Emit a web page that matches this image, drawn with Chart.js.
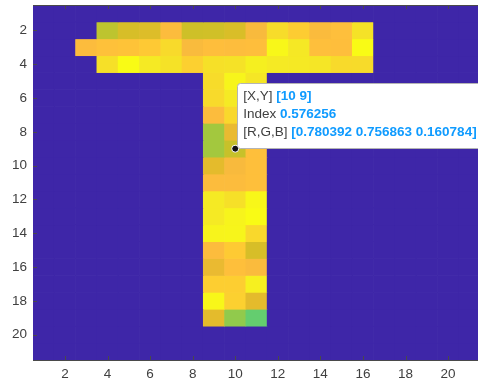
<!DOCTYPE html>
<html>
<head>
<meta charset="utf-8">
<script src="https://cdn.jsdelivr.net/npm/chart.js@4"></script>
<style>
  html, body { margin: 0; padding: 0; background: #fff; overflow: hidden; }
  #wrap { width: 482px; height: 385px; }
</style>
</head>
<body>
<div id="wrap"><canvas id="imgChart"></canvas></div>
<script>
// image matrix (row 1 at the top), 0 = background
const cellValues = [
  [0,0,0,0,0,0,0,0,0,0,0,0,0,0,0,0,0,0,0,0,0],
  [0,0,0,.566,.593,.600,.643,.583,.585,.595,.635,.708,.678,.640,.650,.720,0,0,0,0,0],
  [0,0,.643,.655,.660,.672,.705,.638,.648,.646,.648,.762,.731,.650,.648,.770,0,0,0,0,0],
  [0,0,0,.716,.770,.735,.720,.685,.716,.720,.745,.735,.733,.728,.705,.707,0,0,0,0,0],
  [0,0,0,0,0,0,0,0,.708,.758,.728,0,0,0,0,0,0,0,0,0,0],
  [0,0,0,0,0,0,0,0,.705,.735,.720,0,0,0,0,0,0,0,0,0,0],
  [0,0,0,0,0,0,0,0,.643,.700,.700,0,0,0,0,0,0,0,0,0,0],
  [0,0,0,0,0,0,0,0,.543,.616,.650,0,0,0,0,0,0,0,0,0,0],
  [0,0,0,0,0,0,0,0,.543,.576256,.651,0,0,0,0,0,0,0,0,0,0],
  [0,0,0,0,0,0,0,0,.608,.635,.651,0,0,0,0,0,0,0,0,0,0],
  [0,0,0,0,0,0,0,0,.643,.643,.651,0,0,0,0,0,0,0,0,0,0],
  [0,0,0,0,0,0,0,0,.735,.716,.762,0,0,0,0,0,0,0,0,0,0],
  [0,0,0,0,0,0,0,0,.735,.755,.770,0,0,0,0,0,0,0,0,0,0],
  [0,0,0,0,0,0,0,0,.755,.758,.700,0,0,0,0,0,0,0,0,0,0],
  [0,0,0,0,0,0,0,0,.643,.674,.593,0,0,0,0,0,0,0,0,0,0],
  [0,0,0,0,0,0,0,0,.616,.651,.639,0,0,0,0,0,0,0,0,0,0],
  [0,0,0,0,0,0,0,0,.681,.681,.747,0,0,0,0,0,0,0,0,0,0],
  [0,0,0,0,0,0,0,0,.762,.685,.608,0,0,0,0,0,0,0,0,0,0],
  [0,0,0,0,0,0,0,0,.608,.527,.489,0,0,0,0,0,0,0,0,0,0],
  [0,0,0,0,0,0,0,0,0,0,0,0,0,0,0,0,0,0,0,0,0],
  [0,0,0,0,0,0,0,0,0,0,0,0,0,0,0,0,0,0,0,0,0]
];
const xTicks = [2, 4, 6, 8, 10, 12, 14, 16, 18, 20];
const yTicks = [2, 4, 6, 8, 10, 12, 14, 16, 18, 20];
const colorLimits = [0, 0.77];

// data tip
const tipX = 10;
const tipY = 9;
const tipRGB = ["0.780392", "0.756863", "0.160784"];

// parula, 64 entries
const PARULA = [
  [0.2422,0.1504,0.6603],[0.2504,0.1650,0.7076],[0.2578,0.1818,0.7511],[0.2647,0.1978,0.7952],
  [0.2706,0.2147,0.8364],[0.2751,0.2342,0.8710],[0.2783,0.2559,0.8991],[0.2803,0.2782,0.9221],
  [0.2813,0.3006,0.9414],[0.2810,0.3228,0.9579],[0.2795,0.3447,0.9717],[0.2760,0.3667,0.9829],
  [0.2699,0.3892,0.9906],[0.2602,0.4123,0.9952],[0.2440,0.4358,0.9988],[0.2206,0.4603,0.9973],
  [0.1963,0.4847,0.9892],[0.1834,0.5074,0.9798],[0.1786,0.5289,0.9682],[0.1764,0.5499,0.9520],
  [0.1687,0.5703,0.9359],[0.1540,0.5902,0.9218],[0.1460,0.6091,0.9079],[0.1380,0.6276,0.8973],
  [0.1248,0.6459,0.8883],[0.1113,0.6635,0.8763],[0.0952,0.6798,0.8598],[0.0689,0.6948,0.8394],
  [0.0297,0.7082,0.8163],[0.0036,0.7203,0.7917],[0.0067,0.7312,0.7660],[0.0433,0.7411,0.7394],
  [0.0964,0.7500,0.7120],[0.1408,0.7584,0.6842],[0.1717,0.7670,0.6554],[0.1938,0.7758,0.6251],
  [0.2161,0.7843,0.5923],[0.2470,0.7918,0.5567],[0.2906,0.7973,0.5188],[0.3406,0.8008,0.4789],
  [0.3909,0.8029,0.4354],[0.4456,0.8024,0.3909],[0.5044,0.7993,0.3480],[0.5616,0.7942,0.3045],
  [0.6174,0.7876,0.2612],[0.6720,0.7793,0.2227],[0.7242,0.7698,0.1910],[0.7738,0.7598,0.1646],
  [0.8203,0.7498,0.1535],[0.8634,0.7406,0.1596],[0.9035,0.7330,0.1774],[0.9393,0.7288,0.2100],
  [0.9728,0.7298,0.2394],[0.9956,0.7434,0.2371],[0.9970,0.7659,0.2199],[0.9952,0.7893,0.2028],
  [0.9892,0.8136,0.1885],[0.9786,0.8386,0.1766],[0.9676,0.8639,0.1643],[0.9610,0.8890,0.1537],
  [0.9597,0.9135,0.1423],[0.9628,0.9373,0.1265],[0.9691,0.9606,0.1064],[0.9769,0.9839,0.0805]
];

function valueToColor(v) {
  let f = (v - colorLimits[0]) / (colorLimits[1] - colorLimits[0]);
  f = Math.max(0, Math.min(1, f));
  const pos = f * (PARULA.length - 1);
  const i = Math.min(Math.floor(pos), PARULA.length - 2);
  const t = pos - i;
  const c = PARULA[i].map((a, k) => Math.round(255 * (a + (PARULA[i + 1][k] - a) * t)));
  return `rgb(${c[0]},${c[1]},${c[2]})`;
}

// one floating-bar dataset per image row
const datasets = cellValues.map((row, r) => ({
  data: row.map((v, c) => ({ x: c + 1, y: [r + 0.5, r + 1.5] })),
  backgroundColor: row.map(v => valueToColor(v)),
  borderWidth: 0,
  grouped: false,
  barPercentage: 1,
  categoryPercentage: 1
}));

const axisColor = "#4a4a4a";

// tick marks on the inside + top edge of the box
const insideTicks = {
  id: "insideTicks",
  afterDatasetsDraw(chart) {
    const { ctx, chartArea: a, scales } = chart;
    ctx.save();
    ctx.strokeStyle = axisColor;
    ctx.lineWidth = 1;
    ctx.beginPath();
    xTicks.forEach(v => {
      const px = Math.round(scales.x.getPixelForValue(v)) + 0.5;
      ctx.moveTo(px, a.bottom);
      ctx.lineTo(px, a.bottom - 4);
      ctx.moveTo(px, a.top);
      ctx.lineTo(px, a.top + 4);
    });
    yTicks.forEach(v => {
      const py = Math.round(scales.y.getPixelForValue(v)) + 0.5;
      ctx.moveTo(a.left, py);
      ctx.lineTo(a.left + 4, py);
    });
    ctx.stroke();
    ctx.beginPath();
    ctx.moveTo(a.left, Math.round(a.top) + 0.5);
    ctx.lineTo(a.right, Math.round(a.top) + 0.5);
    ctx.stroke();
    ctx.restore();
  }
};

// data tip box
const dataTip = {
  id: "dataTip",
  afterDraw(chart) {
    const { ctx, scales } = chart;
    const px = scales.x.getPixelForValue(tipX);
    const py = scales.y.getPixelForValue(tipY);
    const idx = cellValues[tipY - 1][tipX - 1];

    const left = px + 2, bottom = py - 1, top = bottom - 65, width = 260;
    ctx.save();
    ctx.fillStyle = "#ffffff";
    ctx.strokeStyle = "#b4b4b4";
    ctx.lineWidth = 1;
    ctx.beginPath();
    ctx.roundRect(Math.round(left) + 0.5, Math.round(top) + 0.5, width, bottom - top, 3);
    ctx.fill();
    ctx.stroke();

    const lines = [
      ["[X,Y]", `[${tipX} ${tipY}]`],
      ["Index", String(idx)],
      ["[R,G,B]", `[${tipRGB.join(" ")}]`]
    ];
    ctx.textBaseline = "middle";
    lines.forEach((ln, i) => {
      const ty = top + 14 + i * 18;
      const tx = left + 6;
      ctx.font = "13.5px 'Liberation Sans', Arial, sans-serif";
      ctx.fillStyle = "#404040";
      ctx.fillText(ln[0], tx, ty);
      const w = ctx.measureText(ln[0] + " ").width;
      ctx.font = "bold 13.5px 'Liberation Sans', Arial, sans-serif";
      ctx.fillStyle = "#0f9bff";
      ctx.fillText(ln[1], tx + w, ty);
    });

    // marker
    ctx.beginPath();
    ctx.arc(px, py, 3.5, 0, Math.PI * 2);
    ctx.fillStyle = "#111111";
    ctx.fill();
    ctx.lineWidth = 1;
    ctx.strokeStyle = "#ffffff";
    ctx.stroke();
    ctx.restore();
  }
};

const tickFont = { family: "'Liberation Sans', Arial, sans-serif", size: 13.5 };

// drop the label overhang Chart.js reserves at the axis ends
function noEndPadding(s) {
  s.paddingTop = 0;
  s.paddingBottom = 0;
  s.paddingLeft = 0;
  s.paddingRight = 0;
}

new Chart(document.getElementById("imgChart"), {
  type: "bar",
  data: { datasets },
  options: {
    responsive: true,
    maintainAspectRatio: false,
    animation: false,
    layout: { padding: { top: 5, right: 2, left: 0, bottom: 0 } },
    plugins: { legend: { display: false }, tooltip: { enabled: false } },
    scales: {
      x: {
        type: "linear",
        min: 0.5,
        max: 21.5,
        offset: false,
        afterBuildTicks: s => { s.ticks = xTicks.map(v => ({ value: v })); },
        afterFit: s => { s.height = 25; noEndPadding(s); },
        grid: { display: false, drawTicks: false },
        border: { display: true, color: axisColor, width: 1 },
        ticks: { color: "#404040", font: tickFont, padding: 6, maxRotation: 0 }
      },
      y: {
        type: "linear",
        reverse: true,
        min: 0.5,
        max: 21.5,
        offset: false,
        afterBuildTicks: s => { s.ticks = yTicks.map(v => ({ value: v })); },
        afterFit: s => { s.width = 33; noEndPadding(s); },
        grid: { display: false, drawTicks: false },
        border: { display: true, color: axisColor, width: 1 },
        ticks: { color: "#404040", font: tickFont, padding: 6 }
      }
    }
  },
  plugins: [insideTicks, dataTip]
});
</script>
</body>
</html>
